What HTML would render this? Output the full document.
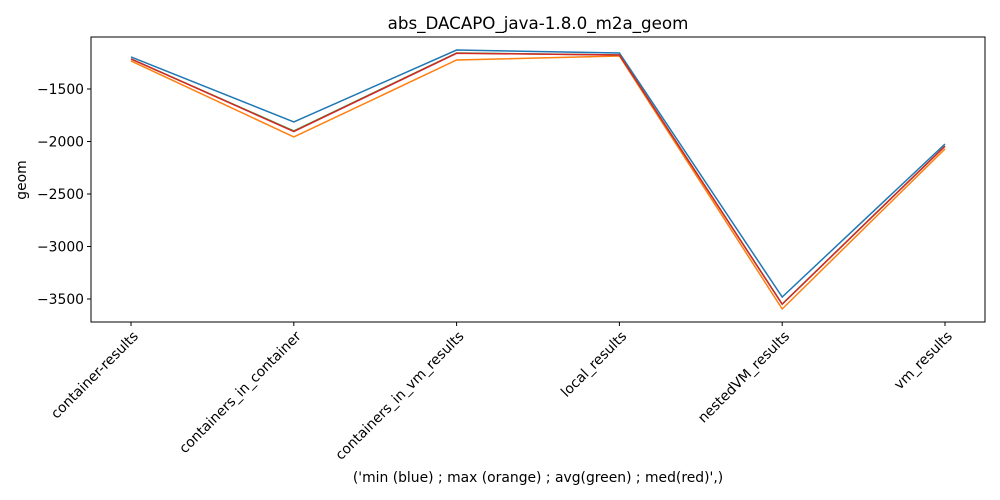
<!DOCTYPE html>
<html><head><meta charset="utf-8"><style>
body{margin:0;background:#fff;}
svg{display:block;font-family:"DejaVu Sans","Liberation Sans",sans-serif;}
</style></head><body>
<svg id="chart" width="1000" height="500" viewBox="0 0 1000 500">
<rect width="1000" height="500" fill="#fff"/>
<text x="538" y="29" text-anchor="middle" font-size="16.7">abs_DACAPO_java-1.8.0_m2a_geom</text>
<g id="plot"></g>
<rect x="91" y="37" width="894" height="285" fill="none" stroke="#000" stroke-width="1"/>
<text x="26" y="180" text-anchor="middle" font-size="13.9" transform="rotate(-90 26 180)">geom</text>
<text x="538" y="482" text-anchor="middle" font-size="13.9">('min (blue) ; max (orange) ; avg(green) ; med(red)',)</text>
</svg>
<script>
const categories=["container-results","containers_in_container","containers_in_vm_results","local_results","nestedVM_results","vm_results"];
const minVals=[-1195,-1814,-1129,-1157,-3481,-2024];
const maxVals=[-1233,-1957,-1224,-1186,-3595,-2071];
const avgVals=[-1214,-1900,-1157,-1176,-3548,-2043];
const medVals=[-1214,-1905,-1160,-1176,-3550,-2045];
const yTicks=[-1500,-2000,-2500,-3000,-3500];
const NS="http://www.w3.org/2000/svg";
const g=document.getElementById('plot');
const x0=131,x1=945,yTop=37,yBot=322,vTop=-1005,vBot=-3719;
function xs(i){return x0+i*(x1-x0)/(categories.length-1);}
function ys(v){return yTop+(vTop-v)/(vTop-vBot)*(yBot-yTop);}
function el(t,a){const e=document.createElementNS(NS,t);for(const k in a)e.setAttribute(k,a[k]);g.appendChild(e);return e;}
yTicks.forEach(v=>{
  const y=ys(v);
  const t=el('line',{x1:87,x2:91,y1:y,y2:y,stroke:'#000'});
  
  
  const l=el('text',{x:84,y:y+5,'text-anchor':'end','font-size':13.9});
  l.textContent='\u2212'+Math.abs(v);
  
  
});
categories.forEach((c,i)=>{
  const x=xs(i);
  const t=el('line',{x1:x,x2:x,y1:322,y2:326,stroke:'#000'});
  
  
  const l=el('text',{x:x+8,y:337,'text-anchor':'end','font-size':13.9,transform:`rotate(-45 ${x+8} 337)`});
  l.textContent=c;
  
  
});
[[minVals,'#1f77b4','min-line'],[maxVals,'#ff7f0e','max-line'],[avgVals,'#2ca02c','avg-line'],[medVals,'#d62728','med-line']].forEach(([vals,col,name])=>{
  const p=el('polyline',{points:vals.map((v,i)=>xs(i)+','+ys(v)).join(' '),fill:'none',stroke:col,'stroke-width':1.5});
  
  
});
</script>
</body></html>
